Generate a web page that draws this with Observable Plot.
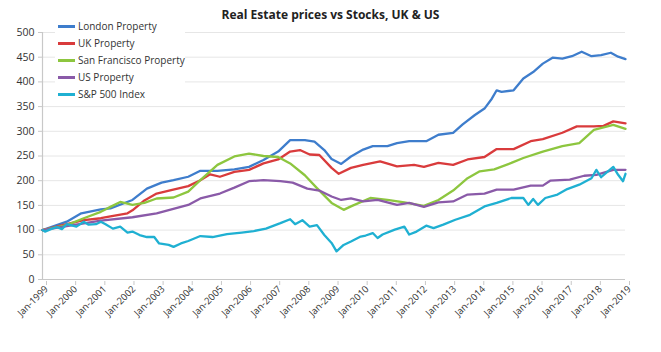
<!DOCTYPE html>
<html>
<head>
<meta charset="utf-8">
<script src="https://cdn.jsdelivr.net/npm/d3@7"></script>
<script src="https://cdn.jsdelivr.net/npm/@observablehq/plot@0.6"></script>
<style>
  html, body { margin: 0; padding: 0; background: #fff; }
  #wrap { position: relative; width: 661px; height: 352px; overflow: hidden; font-family: "Open Sans", sans-serif; }
  #title { position: absolute; left: 0; width: 661px; top: 6px; text-align: center; font-size: 12px; font-weight: 700; color: #222; }
  #legend { position: absolute; left: 55px; top: 18px; width: 130px; height: 84px; background: #fff; }
  .li { position: absolute; left: 3px; font-size: 10px; color: #333; height: 14px; line-height: 14px; white-space: nowrap; }
  .sw { display: inline-block; width: 17px; height: 2.5px; vertical-align: middle; margin-right: 3px; position: relative; top: -1px; }
</style>
</head>
<body>
<div id="wrap">
  <div id="chart"></div>
  <div id="legend"></div>
  <div id="title">Real Estate prices vs Stocks, UK &amp; US</div>
</div>
<script>
const seriesNames = ["London Property", "UK Property", "San Francisco Property", "US Property", "S&P 500 Index"];
const seriesColors = ["#3e7dcc", "#d93b3c", "#8dc63f", "#8a5aa8", "#1fb0d2"];
const yTicks = [0, 50, 100, 150, 200, 250, 300, 350, 400, 450, 500];
const xTickYears = d3.range(1999, 2020);

// [decimal year, index value]
const london = [[1999.0,100],[1999.85,117],[2000.3,134],[2001.0,142],[2001.33,144],[2002.1,161],[2002.6,184],[2003.05,196],[2003.5,201],[2004.0,208],[2004.4,220],[2005.0,220],[2005.55,223],[2006.1,228],[2006.6,242],[2007.05,259],[2007.5,282],[2007.96,282],[2008.3,279],[2008.65,262],[2008.88,244],[2009.22,234],[2009.57,249],[2010.0,263],[2010.35,270],[2010.8,270],[2011.17,276],[2011.6,280],[2012.2,280],[2012.55,293],[2013.1,297],[2013.45,314],[2013.85,333],[2014.2,346],[2014.44,366],[2014.6,383],[2014.78,380],[2015.16,383],[2015.46,407],[2015.8,420],[2016.15,437],[2016.5,449],[2016.84,447],[2017.2,452],[2017.53,461],[2017.87,452],[2018.2,454],[2018.5,459],[2018.75,451],[2019.0,446]];
const ukProperty = [[1999.0,100],[1999.85,112],[2000.4,120],[2001.0,124],[2001.33,128],[2001.9,134],[2002.1,140],[2002.47,160],[2002.9,174],[2003.4,181],[2004.0,189],[2004.4,201],[2004.76,213],[2005.1,208],[2005.55,218],[2006.1,222],[2006.6,235],[2007.05,243],[2007.5,259],[2007.85,262],[2008.2,253],[2008.54,252],[2008.88,226],[2009.15,214],[2009.57,226],[2010.0,232],[2010.6,239],[2011.17,229],[2011.73,232],[2012.07,228],[2012.55,236],[2013.1,232],[2013.58,243],[2014.13,248],[2014.6,264],[2015.16,264],[2015.74,280],[2016.19,284],[2016.87,297],[2017.35,310],[2017.9,310],[2018.25,311],[2018.6,320],[2019.0,316]];
const sanFrancisco = [[1999.0,100],[1999.85,110],[2000.4,124],[2001.0,137],[2001.33,147],[2001.68,157],[2002.1,151],[2002.47,155],[2002.9,164],[2003.5,166],[2004.0,178],[2004.4,201],[2005.0,232],[2005.55,249],[2006.1,255],[2006.6,250],[2007.05,248],[2007.5,235],[2007.96,211],[2008.4,185],[2008.88,155],[2009.3,141],[2009.57,148],[2010.25,165],[2010.8,161],[2011.4,156],[2012.07,149],[2012.55,161],[2013.1,180],[2013.58,205],[2014.03,219],[2014.47,223],[2015.05,236],[2015.5,246],[2016.19,259],[2016.87,270],[2017.45,276],[2017.9,303],[2018.6,313],[2019.0,305]];
const usProperty = [[1999.0,100],[1999.85,108],[2001.0,119],[2002.1,126],[2002.9,134],[2004.0,151],[2004.4,164],[2005.1,174],[2005.55,186],[2006.1,199],[2006.6,201],[2007.16,199],[2007.6,196],[2008.1,184],[2008.54,180],[2008.88,168],[2009.22,161],[2009.57,164],[2010.0,158],[2010.5,161],[2011.17,151],[2011.6,155],[2012.07,147],[2012.55,156],[2013.1,158],[2013.58,172],[2014.13,174],[2014.6,182],[2015.16,182],[2015.74,190],[2016.19,190],[2016.43,200],[2017.1,202],[2017.57,210],[2018.0,212],[2018.6,222],[2019.0,222]];
const sp500 = [[1999.0,100],[1999.1,97],[1999.3,103],[1999.5,106],[1999.7,102],[1999.85,112],[2000.15,107],[2000.4,117],[2000.6,111],[2000.8,112],[2001.0,117],[2001.2,112],[2001.44,103],[2001.65,107],[2001.9,95],[2002.1,97],[2002.36,90],[2002.6,86],[2002.8,86],[2003.0,73],[2003.3,70],[2003.5,66],[2003.73,73],[2004.0,78],[2004.4,88],[2004.87,86],[2005.34,92],[2005.8,95],[2006.24,98],[2006.7,103],[2007.16,114],[2007.5,122],[2007.7,112],[2007.9,120],[2008.2,107],[2008.45,110],[2008.65,90],[2008.88,74],[2009.1,57],[2009.33,70],[2009.57,77],[2009.9,87],[2010.1,89],[2010.35,94],[2010.5,84],[2010.7,91],[2011.05,101],[2011.4,107],[2011.6,91],[2011.86,97],[2012.2,109],[2012.45,104],[2012.76,111],[2013.2,121],[2013.65,131],[2014.13,148],[2014.6,155],[2015.05,165],[2015.5,165],[2015.67,151],[2015.85,163],[2016.0,151],[2016.25,165],[2016.66,172],[2017.0,183],[2017.45,192],[2017.8,205],[2018.0,222],[2018.15,207],[2018.6,228],[2018.76,212],[2018.88,199],[2019.0,214]];

const seriesData = [london, ukProperty, sanFrancisco, usProperty, sp500];

function toDate(t) {
  const y = Math.floor(t);
  const m = Math.round((t - y) * 12);
  return new Date(Date.UTC(y, m, 1));
}

const rows = [];
seriesData.forEach((arr, i) => {
  arr.forEach(([t, v]) => rows.push({series: seriesNames[i], date: toDate(t), value: v}));
});

const chart = Plot.plot({
  width: 661,
  height: 352,
  marginLeft: 42,
  marginRight: 36,
  marginTop: 32,
  marginBottom: 73,
  style: {fontFamily: "Open Sans, sans-serif", fontSize: "10px", color: "#333", background: "#fff"},
  x: {type: "utc", domain: [new Date(Date.UTC(1999,0,1)), new Date(Date.UTC(2019,0,1))]},
  y: {domain: [0, 500]},
  color: {domain: seriesNames, range: seriesColors},
  marks: [
    Plot.ruleY(yTicks.filter(d => d > 0), {stroke: "#e6e6e6", strokeWidth: 1}),
    Plot.ruleX([new Date(Date.UTC(1999,0,1))], {stroke: "#c8c8c8", strokeWidth: 1.2}),
    Plot.ruleY([0], {stroke: "#c8c8c8", strokeWidth: 1.2}),
    Plot.axisY({ticks: yTicks, tickSize: 4, tickPadding: 4, stroke: "#c8c8c8", label: null, fill: "#333", fontSize: 10.5}),
    Plot.axisX({ticks: xTickYears.map(y => new Date(Date.UTC(y,0,1))), tickSize: 4, stroke: "#c8c8c8", label: null,
      tickFormat: d => "Jan-" + d.getUTCFullYear(), tickRotate: -45, textAnchor: "end", tickPadding: 2, dx: 4, dy: 2, fill: "#333", fontSize: 9.5}),
    Plot.line(rows, {x: "date", y: "value", z: "series", stroke: "series", strokeWidth: 2.3, curve: "linear"})
  ]
});
document.getElementById("chart").appendChild(chart);

const legend = document.getElementById("legend");
seriesNames.forEach((n, i) => {
  const d = document.createElement("div");
  d.className = "li";
  d.style.top = (1 + i * 17) + "px";
  const s = document.createElement("span");
  s.className = "sw";
  s.style.background = seriesColors[i];
  d.appendChild(s);
  d.appendChild(document.createTextNode(n));
  legend.appendChild(d);
});
</script>
</body>
</html>
